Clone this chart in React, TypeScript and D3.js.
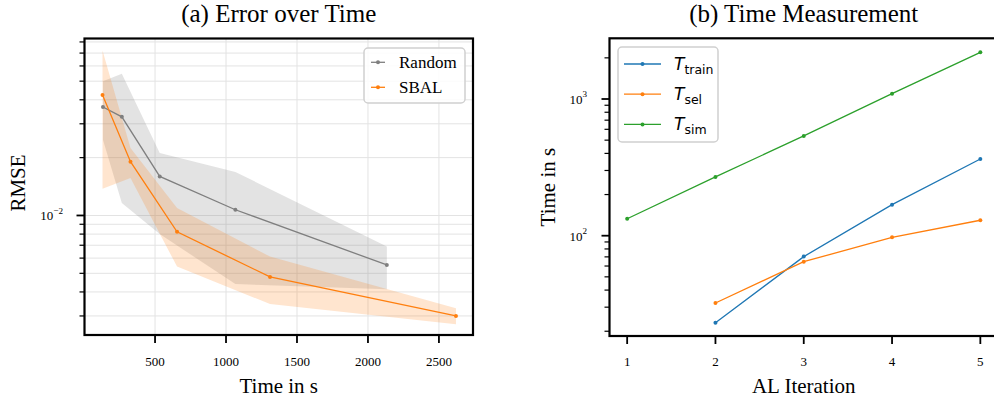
import React from "react";
import * as d3 from "d3";

// ---- Data: (a) Error over Time ----
const randomTime = [133, 266, 533, 1066, 2133];
const randomRmse = [0.0367, 0.0326, 0.01596, 0.01071, 0.00553];
const randomUpper = [0.0500, 0.0546, 0.02115, 0.01684, 0.0069];
const randomLower = [0.0248, 0.01161, 0.0080, 0.0044, 0.00413];

const sbalTime = [130, 327, 655, 1310, 2620];
const sbalRmse = [0.0424, 0.01905, 0.00822, 0.00479, 0.0030];
const sbalUpper = [0.0722, 0.02246, 0.01093, 0.00611, 0.00329];
const sbalLower = [0.01378, 0.01566, 0.00542, 0.00346, 0.00272];

const leftXTicks = [500, 1000, 1500, 2000, 2500];

// ---- Data: (b) Time Measurement ----
const iterations = [1, 2, 3, 4, 5];
const tTrain: (number | null)[] = [null, 23.1, 70.3, 168.6, 364];
const tSel: (number | null)[] = [null, 32.2, 64.5, 97.3, 129.7];
const tSim: (number | null)[] = [133, 269, 537, 1094, 2196];

const FONT = "'Liberation Serif', 'Times New Roman', serif";
const MATH = "'DejaVu Sans', sans-serif";

function logTicks(lo: number, hi: number) {
  const major: number[] = [];
  const minor: number[] = [];
  for (let e = -4; e <= 4; e++) {
    for (let k = 1; k <= 9; k++) {
      const v = k * Math.pow(10, e);
      if (v >= lo * 0.9999 && v <= hi * 1.0001) {
        if (k === 1) major.push(v);
        else minor.push(v);
      }
    }
  }
  return { major, minor };
}

function Sup({ base, exp, x, y, size }: { base: string; exp: string; x: number; y: number; size: number }) {
  return (
    <text x={x} y={y} textAnchor="end" fontFamily={FONT} fontSize={size} dominantBaseline="middle" fill="#000">
      {base}
      <tspan fontSize={size * 0.7} dy={-size * 0.45}>{exp}</tspan>
    </text>
  );
}

export default function App() {
  // Left panel geometry
  const L = { x0: 84.5, x1: 473, y0: 38.5, y1: 335 };
  const xL = d3.scaleLinear().domain([3, 2740]).range([L.x0, L.x1]);
  const yL = d3.scaleLog().domain([Math.pow(10, -2.622), Math.pow(10, -1.079)]).range([L.y1, L.y0]);
  const ltk = logTicks(yL.domain()[0], yL.domain()[1]);

  // Right panel geometry
  const R = { x0: 609.5, x1: 998, y0: 38.3, y1: 336 };
  const xR = d3.scaleLinear().domain([0.8, 5.2]).range([R.x0, R.x1]);
  const yR = d3.scaleLog().domain([18.46, 2780]).range([R.y1, R.y0]);
  const rtk = logTicks(yR.domain()[0], yR.domain()[1]);

  const lineL = d3
    .line<[number, number]>()
    .x((d) => xL(d[0]))
    .y((d) => yL(d[1]));
  const areaL = d3
    .area<[number, number, number]>()
    .x((d) => xL(d[0]))
    .y0((d) => yL(d[2]))
    .y1((d) => yL(d[1]));

  const randPts = randomTime.map((t, i) => [t, randomRmse[i]] as [number, number]);
  const sbalPts = sbalTime.map((t, i) => [t, sbalRmse[i]] as [number, number]);
  const randBand = randomTime.map((t, i) => [t, randomUpper[i], randomLower[i]] as [number, number, number]);
  const sbalBand = sbalTime.map((t, i) => [t, sbalUpper[i], sbalLower[i]] as [number, number, number]);

  const rSeries = [
    { name: "train", color: "#1f77b4", vals: tTrain },
    { name: "sel", color: "#ff7f0e", vals: tSel },
    { name: "sim", color: "#2ca02c", vals: tSim },
  ];
  const lineR = d3
    .line<[number, number]>()
    .x((d) => xR(d[0]))
    .y((d) => yR(d[1]));

  const gridColor = "#e3e3e3";

  return (
    <svg width={994} height={398} style={{ position: "absolute", left: 0, top: 0, background: "#fff" }}>
      <defs>
        <clipPath id="clipL">
          <rect x={L.x0} y={L.y0} width={L.x1 - L.x0} height={L.y1 - L.y0} />
        </clipPath>
        <clipPath id="clipR">
          <rect x={R.x0} y={R.y0} width={R.x1 - R.x0} height={R.y1 - R.y0} />
        </clipPath>
      </defs>
      <rect x={0} y={0} width={994} height={398} fill="#fff" />

      {/* ===== Left panel ===== */}
      <text x={(L.x0 + L.x1) / 2} y={22} textAnchor="middle" fontFamily={FONT} fontSize={25}>
        (a) Error over Time
      </text>
      <g clipPath="url(#clipL)">
        {[...ltk.major, ...ltk.minor].map((v, i) => (
          <line key={"gh" + i} x1={L.x0} x2={L.x1} y1={yL(v)} y2={yL(v)} stroke={gridColor} strokeWidth={1} />
        ))}
        {leftXTicks.map((v, i) => (
          <line key={"gv" + i} x1={xL(v)} x2={xL(v)} y1={L.y0} y2={L.y1} stroke={gridColor} strokeWidth={1} />
        ))}
        <path d={areaL(randBand) || ""} fill="#7f7f7f" fillOpacity={0.22} />
        <path d={areaL(sbalBand) || ""} fill="#ff7f0e" fillOpacity={0.2} />
        <path d={lineL(randPts) || ""} fill="none" stroke="#7f7f7f" strokeWidth={1.3} />
        {randPts.map((p, i) => (
          <circle key={"rp" + i} cx={xL(p[0])} cy={yL(p[1])} r={2} fill="#7f7f7f" />
        ))}
        <path d={lineL(sbalPts) || ""} fill="none" stroke="#ff7f0e" strokeWidth={1.3} />
        {sbalPts.map((p, i) => (
          <circle key={"sp" + i} cx={xL(p[0])} cy={yL(p[1])} r={2} fill="#ff7f0e" />
        ))}
      </g>
      {/* ticks */}
      {ltk.minor.map((v, i) => (
        <line key={"lmt" + i} x1={L.x0 - 5} x2={L.x0} y1={yL(v)} y2={yL(v)} stroke="#000" strokeWidth={1.2} />
      ))}
      {ltk.major.map((v, i) => (
        <g key={"lMt" + i}>
          <line x1={L.x0 - 8} x2={L.x0} y1={yL(v)} y2={yL(v)} stroke="#000" strokeWidth={1.8} />
          <Sup base="10" exp={"\u22122"} x={63} y={yL(v) + 2} size={13} />
        </g>
      ))}
      {leftXTicks.map((v, i) => (
        <g key={"lxt" + i}>
          <line x1={xL(v)} x2={xL(v)} y1={L.y1} y2={L.y1 + 8} stroke="#000" strokeWidth={1.8} />
          <text x={xL(v)} y={366} textAnchor="middle" fontFamily={FONT} fontSize={13}>
            {v}
          </text>
        </g>
      ))}
      <rect x={L.x0} y={L.y0} width={L.x1 - L.x0} height={L.y1 - L.y0} fill="none" stroke="#000" strokeWidth={2.2} />
      <text x={(L.x0 + L.x1) / 2} y={393} textAnchor="middle" fontFamily={FONT} fontSize={21}>
        Time in s
      </text>
      <text transform={`translate(25,183) rotate(-90)`} textAnchor="middle" fontFamily={FONT} fontSize={21}>
        RMSE
      </text>
      {/* legend left */}
      <g>
        <rect x={364} y={48} width={101} height={55} rx={4} fill="#fff" fillOpacity={0.85} stroke="#d0d0d0" strokeWidth={1.5} />
        <line x1={371} x2={385} y1={62.3} y2={62.3} stroke="#7f7f7f" strokeWidth={1.3} />
        <circle cx={378} cy={62.3} r={2} fill="#7f7f7f" />
        <text x={399} y={62.3} dominantBaseline="central" fontFamily={FONT} fontSize={17}>Random</text>
        <line x1={371} x2={385} y1={87.3} y2={87.3} stroke="#ff7f0e" strokeWidth={1.3} />
        <circle cx={378} cy={87.3} r={2} fill="#ff7f0e" />
        <text x={399} y={87.3} dominantBaseline="central" fontFamily={FONT} fontSize={17}>SBAL</text>
      </g>

      {/* ===== Right panel ===== */}
      <text x={(R.x0 + R.x1) / 2} y={22} textAnchor="middle" fontFamily={FONT} fontSize={25}>
        (b) Time Measurement
      </text>
      <g clipPath="url(#clipR)">
        {rSeries.map((s) => {
          const pts = iterations
            .map((it, i) => [it, s.vals[i]] as [number, number | null])
            .filter((p) => p[1] !== null) as [number, number][];
          return (
            <g key={s.name}>
              <path d={lineR(pts) || ""} fill="none" stroke={s.color} strokeWidth={1.3} />
              {pts.map((p, i) => (
                <circle key={i} cx={xR(p[0])} cy={yR(p[1])} r={2} fill={s.color} />
              ))}
            </g>
          );
        })}
      </g>
      {rtk.minor.map((v, i) => (
        <line key={"rmt" + i} x1={R.x0 - 5} x2={R.x0} y1={yR(v)} y2={yR(v)} stroke="#000" strokeWidth={1.2} />
      ))}
      {rtk.major.map((v, i) => (
        <g key={"rMt" + i}>
          <line x1={R.x0 - 8} x2={R.x0} y1={yR(v)} y2={yR(v)} stroke="#000" strokeWidth={1.8} />
          <Sup base="10" exp={String(Math.round(Math.log10(v)))} x={587} y={yR(v) + 2} size={13} />
        </g>
      ))}
      {iterations.map((v, i) => (
        <g key={"rxt" + i}>
          <line x1={xR(v)} x2={xR(v)} y1={R.y1} y2={R.y1 + 8} stroke="#000" strokeWidth={1.8} />
          <text x={xR(v)} y={366} textAnchor="middle" fontFamily={FONT} fontSize={13}>
            {v}
          </text>
        </g>
      ))}
      <rect x={R.x0} y={R.y0} width={R.x1 - R.x0} height={R.y1 - R.y0} fill="none" stroke="#000" strokeWidth={2.2} />
      <text x={(R.x0 + R.x1) / 2} y={393} textAnchor="middle" fontFamily={FONT} fontSize={21}>
        AL Iteration
      </text>
      <text transform={`translate(555,${(R.y0 + R.y1) / 2}) rotate(-90)`} textAnchor="middle" fontFamily={FONT} fontSize={21}>
        Time in s
      </text>
      {/* legend right */}
      <g>
        <rect x={618} y={47} width={100} height={95} rx={4} fill="#fff" fillOpacity={0.85} stroke="#d0d0d0" strokeWidth={1.5} />
        {rSeries.map((s, i) => {
          const yy = 64 + i * 30.2;
          return (
            <g key={"lg" + s.name}>
              <line x1={624} x2={661} y1={yy} y2={yy} stroke={s.color} strokeWidth={1.3} />
              <circle cx={642.5} cy={yy} r={2} fill={s.color} />
              <text x={674} y={yy + 6} fontFamily={MATH} fontSize={17}>
                <tspan fontStyle="italic">T</tspan>
                <tspan fontSize={12.5} dy={4}>{s.name}</tspan>
              </text>
            </g>
          );
        })}
      </g>
    </svg>
  );
}
